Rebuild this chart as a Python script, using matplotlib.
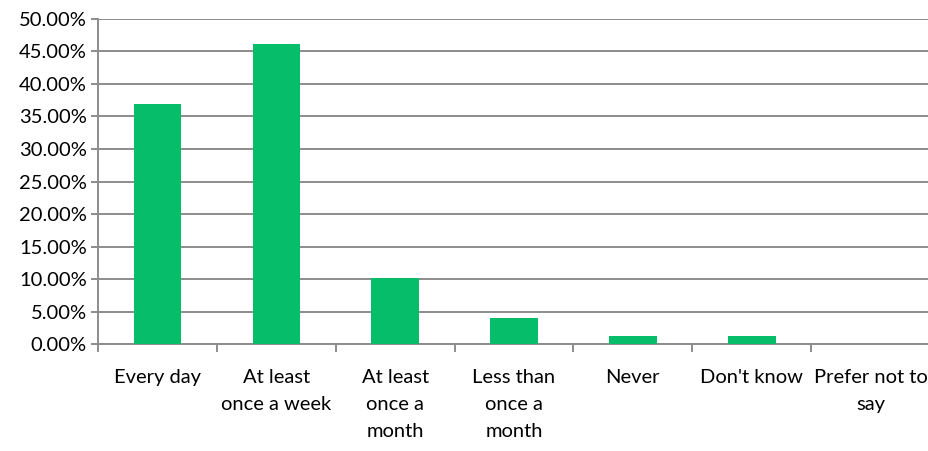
import numpy as np
import matplotlib
matplotlib.use("Agg")
import matplotlib.pyplot as plt
from matplotlib.ticker import FuncFormatter, FixedLocator

# values (percent of respondents)
categories = ["Every day", "At least\nonce a week", "At least\nonce a\nmonth",
              "Less than\nonce a\nmonth", "Never", "Don't know", "Prefer not to\nsay"]
values = [36.9, 46.2, 10.1, 4.0, 1.2, 1.2, 0.0]
y_ticks = np.arange(0, 50.01, 5)

bar_color = "#06BD6A"
grid_color = "#8C8C8C"

plt.rcParams["font.family"] = ["Lato", "DejaVu Sans"]

fig = plt.figure(figsize=(9.29, 4.51), dpi=100)
ax = fig.add_axes([0.1055, 0.237, 0.8956, 0.721])

x = np.arange(len(categories))
ax.bar(x, values, width=0.4, color=bar_color, zorder=3)

ax.set_xlim(-0.5, len(categories) - 0.5)
ax.set_ylim(0, 50)
ax.set_yticks(y_ticks)
ax.yaxis.set_major_formatter(FuncFormatter(lambda v, p: f"{v:.2f}%"))
ax.grid(axis="y", color=grid_color, linewidth=1.4, zorder=0)

ax.set_xticks(x)
ax.set_xticklabels(categories, linespacing=1.7, fontsize=14.5)
ax.xaxis.set_minor_locator(FixedLocator(np.arange(-0.5, len(categories), 1)))
ax.tick_params(axis="x", which="major", length=0, pad=18)
ax.tick_params(axis="x", which="minor", length=6, width=1.4, color=grid_color)
ax.tick_params(axis="y", length=5, width=1.4, color=grid_color, labelsize=14.5, pad=3)

for side in ["top", "right"]:
    ax.spines[side].set_visible(False)
for side in ["left", "bottom"]:
    ax.spines[side].set_color(grid_color)
    ax.spines[side].set_linewidth(1.4)

fig.savefig("out.png", dpi=100)
